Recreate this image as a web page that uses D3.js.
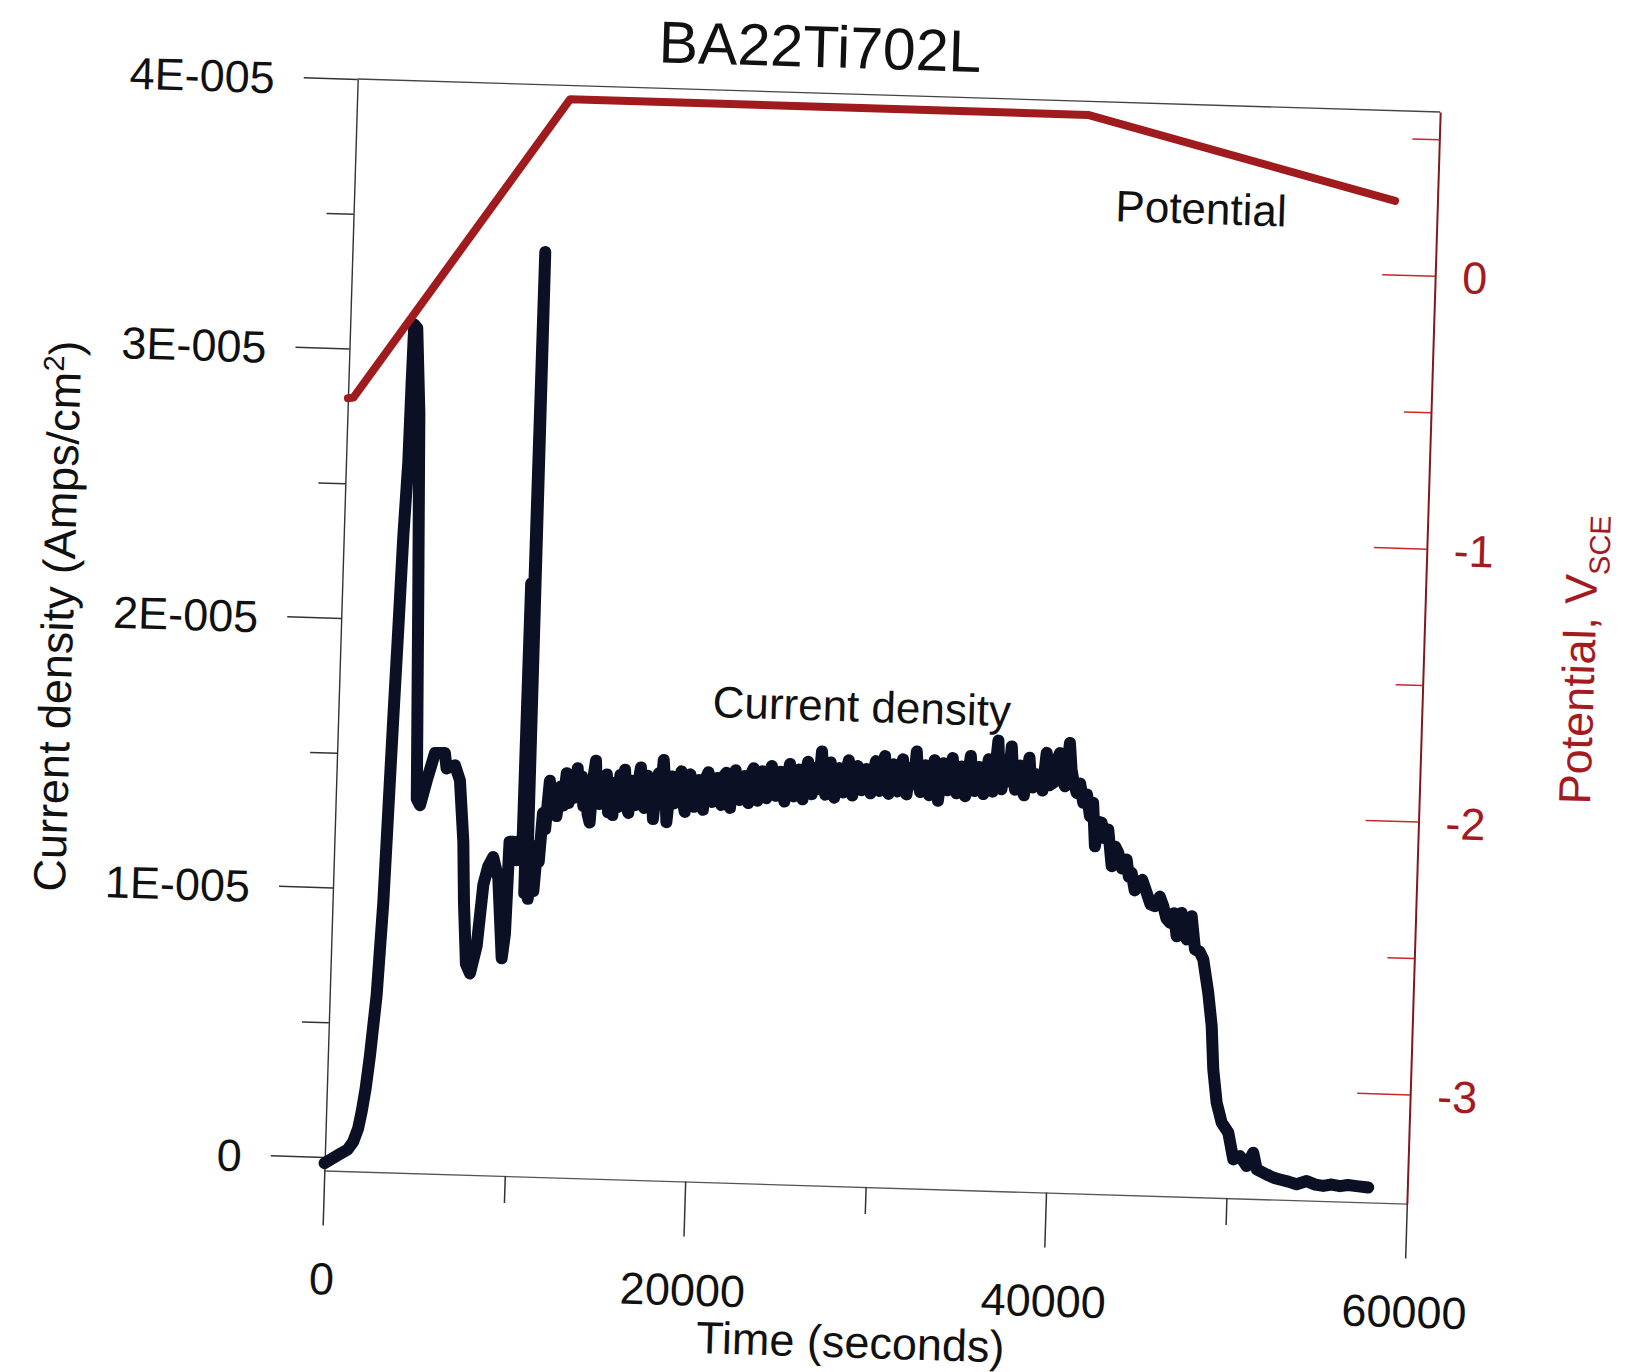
<!DOCTYPE html>
<html>
<head>
<meta charset="utf-8">
<script src="https://cdn.jsdelivr.net/npm/d3@7"></script>
<style>
  body { margin: 0; background: #fff; }
  svg text { font-family: "Liberation Sans", Arial, Helvetica, sans-serif; }
</style>
</head>
<body>
<div id="chart"></div>
<script>
// Current density, in units of 1E-005 A/cm^2, as [time (s), value]
const currentEarly = [
    [0, -0.023], [840, 0.013], [1250, 0.03], [1550, 0.06], [1800, 0.11], [1970, 0.174],
    [2150, 0.26], [2330, 0.38], [2600, 0.607], [2810, 0.948], [2930, 1.289], [3050, 1.63],
    [3180, 1.971], [3300, 2.311], [3450, 2.584], [3500, 2.88], [3550, 3.096], [3720, 3.084],
    [3980, 2.767], [4230, 2.087], [4490, 1.338], [4680, 1.315], [5010, 1.407], [5420, 1.51],
    [5970, 1.511], [6090, 1.454], [6550, 1.467], [6850, 1.411], [7140, 1.184], [7280, 0.957],
    [7490, 0.731], [7730, 0.697], [8055, 0.8], [8320, 1.027], [8560, 1.096], [8820, 1.131],
    [9140, 1.052], [9460, 0.757], [9600, 0.848], [9700, 1.19], [9906, 1.19], [10125, 1.122],
    [10277, 1.19], [10420, 1.21]
];
const currentSpike = [
    [10460, 2.15], [10560, 2.1], [10600, 1.0], [10680, 3.38], [10720, 1.1], [10800, 0.98],
    [10950, 1.08], [11100, 1.01], [11250, 1.18], [11350, 1.12], [11500, 1.30], [11650, 1.24],
    [11830, 1.42], [11950, 1.30], [12100, 1.38], [12250, 1.29], [12430, 1.40], [12600, 1.33],
    [12750, 1.45], [12900, 1.34], [13050, 1.43], [13200, 1.36], [13350, 1.47], [13475, 1.38]
];
const currentPlateau = [
    [13600, 1.44], [13725, 1.33], [13850, 1.41], [13975, 1.30], [14100, 1.27], [14225, 1.43], [14350, 1.50], [14475, 1.35],
    [14600, 1.34], [14725, 1.44], [14850, 1.36], [14975, 1.45], [15100, 1.31], [15225, 1.40], [15350, 1.30], [15475, 1.42],
    [15600, 1.33], [15725, 1.45], [15850, 1.37], [15975, 1.47], [16100, 1.34], [16225, 1.31], [16350, 1.43], [16475, 1.36],
    [16600, 1.34], [16725, 1.42], [16850, 1.48], [16975, 1.35], [17100, 1.33], [17225, 1.45], [17350, 1.38], [17475, 1.44],
    [17600, 1.29], [17725, 1.40], [17850, 1.46], [17975, 1.36], [18100, 1.51], [18225, 1.42], [18350, 1.28], [18475, 1.39],
    [18600, 1.45], [18725, 1.35], [18850, 1.43], [18975, 1.37], [19100, 1.47], [19225, 1.36], [19350, 1.32], [19475, 1.44],
    [19600, 1.46], [19725, 1.37], [19850, 1.34], [19975, 1.43], [20100, 1.44], [20225, 1.36], [20350, 1.33], [20475, 1.45],
    [20600, 1.47], [20725, 1.38], [20850, 1.36], [20975, 1.44], [21100, 1.45], [21225, 1.37], [21350, 1.35], [21475, 1.46],
    [21600, 1.47], [21725, 1.39], [21850, 1.34], [21975, 1.45], [22100, 1.48], [22225, 1.38], [22350, 1.37], [22475, 1.44],
    [22600, 1.46], [22725, 1.38], [22850, 1.36], [22975, 1.47], [23100, 1.49], [23225, 1.40], [23350, 1.37], [23475, 1.46],
    [23600, 1.48], [23725, 1.39], [23850, 1.38], [23975, 1.47], [24100, 1.50], [24225, 1.41], [24350, 1.39], [24475, 1.46],
    [24600, 1.48], [24725, 1.40], [24850, 1.37], [24975, 1.46], [25100, 1.51], [25225, 1.41], [25350, 1.39], [25475, 1.47],
    [25600, 1.49], [25725, 1.41], [25850, 1.38], [25975, 1.48], [26100, 1.52], [26225, 1.42], [26350, 1.40], [26475, 1.47],
    [26600, 1.50], [26725, 1.42], [26850, 1.56], [26975, 1.45], [27100, 1.40], [27225, 1.48], [27350, 1.52], [27475, 1.42],
    [27600, 1.39], [27725, 1.47], [27850, 1.50], [27975, 1.43], [28100, 1.41], [28225, 1.49], [28350, 1.53], [28475, 1.44],
    [28600, 1.40], [28725, 1.48], [28850, 1.51], [28975, 1.43], [29100, 1.42], [29225, 1.49], [29350, 1.50], [29475, 1.44],
    [29600, 1.41], [29725, 1.48], [29850, 1.53], [29975, 1.44], [30100, 1.42], [30225, 1.50], [30350, 1.55], [30475, 1.45],
    [30600, 1.41], [30725, 1.47], [30850, 1.52], [30975, 1.44], [31100, 1.42], [31225, 1.49], [31350, 1.54], [31475, 1.45],
    [31600, 1.41], [31725, 1.48], [31850, 1.51], [31975, 1.45], [32100, 1.57], [32225, 1.46], [32350, 1.42], [32475, 1.49],
    [32600, 1.52], [32725, 1.44], [32850, 1.41], [32975, 1.48], [33100, 1.54], [33225, 1.45], [33350, 1.39], [33475, 1.47],
    [33600, 1.53], [33725, 1.45], [33850, 1.43], [33975, 1.50], [34100, 1.55], [34225, 1.46], [34350, 1.42], [34475, 1.49],
    [34600, 1.52], [34725, 1.44], [34850, 1.41], [34975, 1.49], [35100, 1.56], [35225, 1.47], [35350, 1.43], [35475, 1.50],
    [35600, 1.52], [35725, 1.45], [35850, 1.42], [35975, 1.49], [36100, 1.55], [36225, 1.47], [36350, 1.43], [36475, 1.51],
    [36600, 1.62], [36725, 1.48], [36850, 1.44], [36975, 1.50], [37100, 1.55], [37225, 1.47], [37350, 1.60], [37475, 1.49],
    [37600, 1.44], [37725, 1.50], [37850, 1.53], [37975, 1.46], [38100, 1.42], [38225, 1.49], [38350, 1.56], [38475, 1.47],
    [38600, 1.45], [38725, 1.50]
];
const currentDecay = [
    [38960, 1.492], [39120, 1.44], [39294, 1.58], [39500, 1.46], [39711, 1.47], [39850, 1.55],
    [40030, 1.581], [40200, 1.48], [40363, 1.458], [40565, 1.619], [40700, 1.52], [40809, 1.484],
    [41019, 1.435], [41200, 1.47], [41402, 1.399], [41600, 1.43], [41795, 1.35], [41950, 1.40],
    [42122, 1.239], [42300, 1.33], [42456, 1.327], [42650, 1.27], [42832, 1.303], [43083, 1.167],
    [43250, 1.24], [43424, 1.218], [43650, 1.16], [43902, 1.194], [44050, 1.13], [44200, 1.145],
    [44400, 1.08], [44590, 1.096], [44800, 1.12], [45066, 1.073], [45300, 1.03], [45550, 1.024],
    [45800, 1.06], [46008, 1.025], [46200, 0.98], [46408, 0.964], [46600, 1.0], [46801, 0.915],
    [47038, 1.002], [47200, 0.93], [47361, 0.904], [47598, 0.991], [47837, 0.868], [48100, 0.86],
    [48314, 0.832], [48645, 0.709], [48893, 0.586], [49053, 0.426], [49298, 0.302], [49608, 0.229],
    [49991, 0.193], [50314, 0.094], [50678, 0.107], [51066, 0.071], [51408, 0.121], [51626, 0.06],
    [52187, 0.042], [52600, 0.03], [52933, 0.025], [53400, 0.018], [53864, 0.009], [54413, 0.022],
    [54900, 0.01], [55341, 0.006], [55800, 0.012], [56266, 0.007], [56700, 0.012], [57190, 0.009],
    [57835, 0.005]
];

// Potential (V vs SCE)
const potentialTime = [0, 300, 11800, 40500, 57650];
const potentialV = [-0.57, -0.567, 0.55, 0.55, 0.27];

// Ticks
const xMajor = [0, 20000, 40000, 60000];
const xMinor = [10000, 30000, 50000];
const yMajor = [0, 1, 2, 3, 4];
const yMinor = [0.5, 1.5, 2.5, 3.5];
const vMajor = [-3, -2, -1, 0];
const vMinor = [-2.5, -1.5, -0.5, 0.5];

const W = 1083, H = 1092;
const red = "#a31a1f";

const x = d3.scaleLinear().domain([0, 60000]).range([0, W]);
const y = d3.scaleLinear().domain([-0.05, 4]).range([H, 0]);
const yR = d3.scaleLinear().domain([-3.4, 0.6]).range([H, 0]);

const svg = d3.select("#chart").append("svg")
    .attr("width", 1631)
    .attr("height", 1372)
    .style("background", "#fff");

// the scanned page sits slightly tilted
const g = svg.append("g")
    .attr("transform", "translate(357.7,79) rotate(1.75)");

function styleAxis(sel, lineColor, textColor) {
    sel.attr("font-family", null).attr("font-size", null);
    sel.selectAll(".tick line").attr("stroke", lineColor).attr("stroke-width", 1.5);
    sel.selectAll(".tick text").attr("fill", textColor).attr("font-size", 45);
}

// Left axis
const yAxis = g.append("g")
    .call(d3.axisLeft(y).tickValues(yMajor).tickSize(54).tickSizeOuter(0).tickPadding(29)
        .tickFormat(d => d === 0 ? "0" : d + "E-005"));
styleAxis(yAxis, "#333", "#111");
yAxis.select(".domain").attr("stroke", "#333").attr("stroke-width", 1.4);
yAxis.selectAll(".tick text").attr("dy", "0.36em");

const yAxisMinor = g.append("g")
    .call(d3.axisLeft(y).tickValues(yMinor).tickSize(27).tickFormat(""));
styleAxis(yAxisMinor, "#333", "#111");
yAxisMinor.select(".domain").remove();

// Bottom axis
const xAxis = g.append("g")
    .attr("transform", `translate(0,${H})`)
    .call(d3.axisBottom(x).tickValues(xMajor).tickSize(55).tickSizeOuter(0).tickPadding(37)
        .tickFormat(d3.format("d")));
styleAxis(xAxis, "#333", "#111");
xAxis.select(".domain").attr("stroke", "#555").attr("stroke-width", 1.4);

const xAxisMinor = g.append("g")
    .attr("transform", `translate(0,${H})`)
    .call(d3.axisBottom(x).tickValues(xMinor).tickSize(27).tickFormat(""));
styleAxis(xAxisMinor, "#333", "#111");
xAxisMinor.select(".domain").remove();

// Top frame
g.append("line")
    .attr("x1", 0).attr("x2", W)
    .attr("y1", 0).attr("y2", 0)
    .attr("stroke", "#444")
    .attr("stroke-width", 1.4);

// Right axis (potential), ticks point inward
const vAxis = g.append("g")
    .attr("transform", `translate(${W},0)`)
    .call(d3.axisRight(yR).tickValues(vMajor).tickSize(-53).tickSizeOuter(0).tickPadding(27)
        .tickFormat(d => String(d)));
styleAxis(vAxis, "#c8282c", red);
vAxis.select(".domain").attr("stroke", "#7e1a1e").attr("stroke-width", 2);
vAxis.selectAll(".tick text").attr("dy", "0.36em");

const vAxisMinor = g.append("g")
    .attr("transform", `translate(${W},0)`)
    .call(d3.axisRight(yR).tickValues(vMinor).tickSize(-27).tickFormat(""));
styleAxis(vAxisMinor, "#c8282c", red);
vAxisMinor.select(".domain").remove();

// Current density curve
const currentData = currentEarly.concat(currentSpike, currentPlateau, currentDecay);
g.append("path")
    .datum(currentData)
    .attr("fill", "none")
    .attr("stroke", "#0c1024")
    .attr("stroke-width", 12)
    .attr("stroke-linejoin", "round")
    .attr("stroke-linecap", "round")
    .attr("d", d3.line().x(d => x(d[0])).y(d => y(d[1])));

// Potential curve
const potentialData = potentialTime.map((t, i) => [t, potentialV[i]]);
g.append("path")
    .datum(potentialData)
    .attr("fill", "none")
    .attr("stroke", "#a01b1d")
    .attr("stroke-width", 8)
    .attr("stroke-linejoin", "round")
    .attr("stroke-linecap", "round")
    .attr("d", d3.line().x(d => x(d[0])).y(d => yR(d[1])));

// Title
g.append("text")
    .attr("x", 300)
    .attr("y", -26)
    .attr("font-size", 59)
    .attr("fill", "#111")
    .text("BA22Ti702L");

// Axis titles
g.append("text")
    .attr("x", 531)
    .attr("y", 1263)
    .attr("text-anchor", "middle")
    .attr("font-size", 45)
    .attr("fill", "#111")
    .text("Time (seconds)");

const yTitle = g.append("text")
    .attr("transform", "translate(-268,546) rotate(-90)")
    .attr("text-anchor", "middle")
    .attr("font-size", 45)
    .attr("fill", "#111");
yTitle.append("tspan").text("Current density (Amps/cm");
yTitle.append("tspan").attr("font-size", 29).attr("dy", -17).text("2");
yTitle.append("tspan").attr("dy", 17).text(")");

const vTitle = g.append("text")
    .attr("transform", "translate(1254,543) rotate(-90)")
    .attr("text-anchor", "middle")
    .attr("font-size", 45)
    .attr("fill", red);
vTitle.append("tspan").text("Potential, V");
vTitle.append("tspan").attr("font-size", 29).attr("dy", 12).text("SCE");

// Series labels
g.append("text")
    .attr("x", 847)
    .attr("y", 119)
    .attr("text-anchor", "middle")
    .attr("font-size", 44)
    .attr("fill", "#111")
    .text("Potential");

g.append("text")
    .attr("x", 523)
    .attr("y", 627)
    .attr("text-anchor", "middle")
    .attr("font-size", 44)
    .attr("fill", "#111")
    .text("Current density");
</script>
</body>
</html>
